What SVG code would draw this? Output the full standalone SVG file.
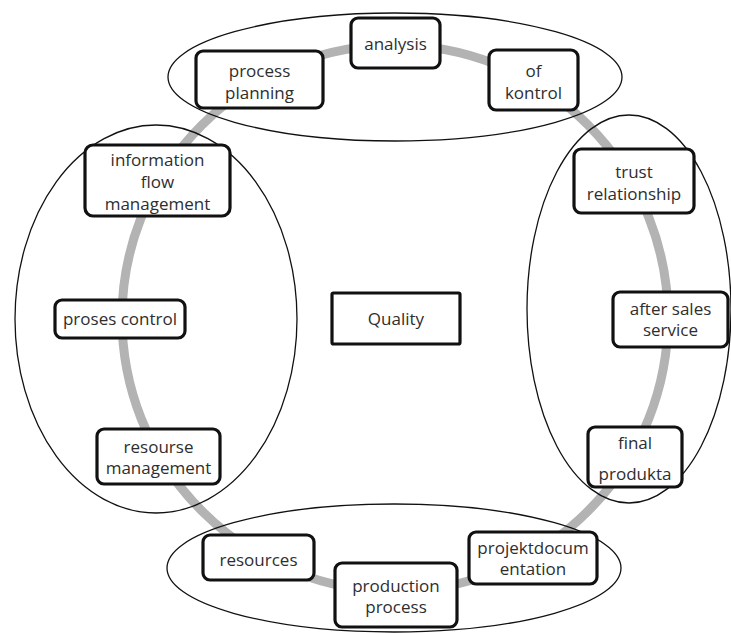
<svg xmlns="http://www.w3.org/2000/svg" width="731" height="633" viewBox="0 0 731 633">
<style>
.bg{fill:#ffffff}
.ring{fill:none;stroke:#b3b3b3;stroke-width:9}
.grp{fill:none;stroke:#111;stroke-width:1.3}
.box{fill:#fff;stroke:#111;stroke-width:3.2}
.t{font-family:"Open Sans","Liberation Sans",sans-serif;font-size:17px;fill:#2e2e2e;text-anchor:middle;dominant-baseline:central}
</style>
<rect class="bg" x="0" y="0" width="731" height="633"/>
<g id="connectors">
<circle class="ring" cx="395" cy="318" r="273"/>
</g>
<g id="groups">
<ellipse id="group-top" class="grp" cx="395" cy="77" rx="227" ry="64"/>
<ellipse id="group-left" class="grp" cx="156" cy="319" rx="141" ry="194"/>
<ellipse id="group-right" class="grp" cx="629" cy="309" rx="102" ry="194"/>
<ellipse id="group-bottom" class="grp" cx="394" cy="568" rx="227" ry="64"/>
</g>
<g id="analysis"><rect class="box" x="351" y="18" width="89" height="50" rx="7"/><text class="t" x="395.5" y="43">analysis</text></g>
<g id="process-planning"><rect class="box" x="196" y="51" width="127" height="57" rx="7"/><text class="t" x="259.5" y="70">process</text><text class="t" x="259.5" y="92">planning</text></g>
<g id="of-kontrol"><rect class="box" x="489" y="50" width="89" height="60" rx="7"/><text class="t" x="533.5" y="70">of</text><text class="t" x="533.5" y="92">kontrol</text></g>
<g id="information-flow-management"><rect class="box" x="85" y="145" width="145" height="71" rx="8"/><text class="t" x="157.5" y="159">information</text><text class="t" x="157.5" y="181">flow</text><text class="t" x="157.5" y="203">management</text></g>
<g id="proses-control"><rect class="box" x="55" y="300" width="130" height="38" rx="7"/><text class="t" x="120" y="318">proses control</text></g>
<g id="resourse-management"><rect class="box" x="97" y="429" width="123" height="55" rx="7"/><text class="t" x="158.5" y="446">resourse</text><text class="t" x="158.5" y="467">management</text></g>
<g id="trust-relationship"><rect class="box" x="574" y="149" width="120" height="64" rx="7"/><text class="t" x="634" y="171">trust</text><text class="t" x="634" y="193">relationship</text></g>
<g id="after-sales-service"><rect class="box" x="613" y="292" width="115" height="55" rx="7"/><text class="t" x="670.5" y="308">after sales</text><text class="t" x="670.5" y="329">service</text></g>
<g id="final-produkta"><rect class="box" x="588" y="427" width="94" height="60" rx="7"/><text class="t" x="635" y="442">final</text><text class="t" x="635" y="473">produkta</text></g>
<g id="projektdocumentation"><rect class="box" x="469" y="532" width="128" height="52" rx="7"/><text class="t" x="533" y="547">projektdocum</text><text class="t" x="533" y="568">entation</text></g>
<g id="production-process"><rect class="box" x="335" y="563" width="122" height="64" rx="7"/><text class="t" x="396" y="585">production</text><text class="t" x="396" y="606">process</text></g>
<g id="resources"><rect class="box" x="203" y="535" width="111" height="45" rx="7"/><text class="t" x="258.5" y="559">resources</text></g>
<g id="quality"><rect class="box" x="332" y="293" width="128" height="51" rx="1.5"/><text class="t" x="396" y="318">Quality</text></g>
</svg>
